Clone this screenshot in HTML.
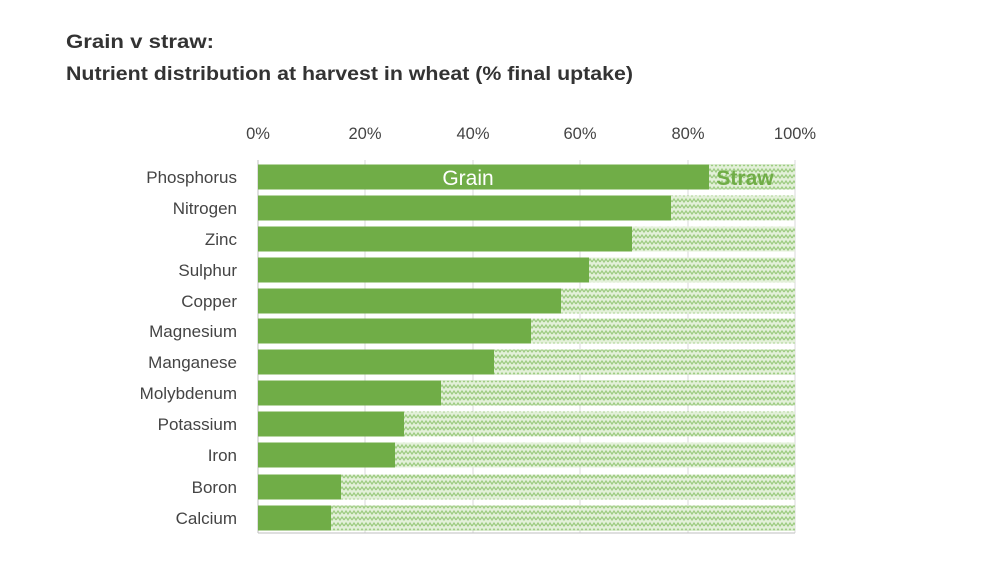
<!DOCTYPE html>
<html><head><meta charset="utf-8"><style>
body{margin:0;background:#fff;width:1000px;height:575px;overflow:hidden}
</style></head><body>
<svg width="1000" height="575" xmlns="http://www.w3.org/2000/svg" font-family="Liberation Sans, sans-serif">
<defs>
<pattern id="p" width="8" height="6" patternUnits="userSpaceOnUse">
<rect width="8" height="6" fill="#e3f0d9"/>
<path d="M0 4 L2 1 L4 4 L6 1 L8 4" stroke="#9ccb80" stroke-width="1.2" fill="none"/>
</pattern>
</defs>
<text x="66" y="48" font-size="19" font-weight="bold" fill="#333" textLength="148" lengthAdjust="spacingAndGlyphs">Grain v straw:</text>
<text x="66" y="80" font-size="19" font-weight="bold" fill="#333" textLength="567" lengthAdjust="spacingAndGlyphs">Nutrient distribution at harvest in wheat (% final uptake)</text>
<g font-size="16.5" fill="#444" text-anchor="middle">
<text x="258" y="139">0%</text><text x="365" y="139">20%</text><text x="473" y="139">40%</text><text x="580" y="139">60%</text><text x="688" y="139">80%</text><text x="795" y="139">100%</text>
</g>
<g stroke="#d9d9d9" stroke-width="1">
<line x1="365" y1="160" x2="365" y2="533"/><line x1="473" y1="160" x2="473" y2="533"/><line x1="580" y1="160" x2="580" y2="533"/><line x1="688" y1="160" x2="688" y2="533"/><line x1="795" y1="160" x2="795" y2="533"/>
</g>
<line x1="258" y1="160" x2="258" y2="533" stroke="#bfbfbf"/>
<line x1="258" y1="533" x2="795" y2="533" stroke="#bfbfbf"/>
<g font-size="17" fill="#444" text-anchor="end">
<rect x="258" y="164.5" width="537" height="25" fill="url(#p)"/><rect x="258" y="164.5" width="451" height="25" fill="#70ad47"/><text x="237" y="183">Phosphorus</text>
<rect x="258" y="195.5" width="537" height="25" fill="url(#p)"/><rect x="258" y="195.5" width="413" height="25" fill="#70ad47"/><text x="237" y="214">Nitrogen</text>
<rect x="258" y="226.5" width="537" height="25" fill="url(#p)"/><rect x="258" y="226.5" width="374" height="25" fill="#70ad47"/><text x="237" y="245">Zinc</text>
<rect x="258" y="257.5" width="537" height="25" fill="url(#p)"/><rect x="258" y="257.5" width="331" height="25" fill="#70ad47"/><text x="237" y="276">Sulphur</text>
<rect x="258" y="288.5" width="537" height="25" fill="url(#p)"/><rect x="258" y="288.5" width="303" height="25" fill="#70ad47"/><text x="237" y="307">Copper</text>
<rect x="258" y="318.5" width="537" height="25" fill="url(#p)"/><rect x="258" y="318.5" width="273" height="25" fill="#70ad47"/><text x="237" y="337">Magnesium</text>
<rect x="258" y="349.5" width="537" height="25" fill="url(#p)"/><rect x="258" y="349.5" width="236" height="25" fill="#70ad47"/><text x="237" y="368">Manganese</text>
<rect x="258" y="380.5" width="537" height="25" fill="url(#p)"/><rect x="258" y="380.5" width="183" height="25" fill="#70ad47"/><text x="237" y="399">Molybdenum</text>
<rect x="258" y="411.5" width="537" height="25" fill="url(#p)"/><rect x="258" y="411.5" width="146" height="25" fill="#70ad47"/><text x="237" y="430">Potassium</text>
<rect x="258" y="442.5" width="537" height="25" fill="url(#p)"/><rect x="258" y="442.5" width="137" height="25" fill="#70ad47"/><text x="237" y="461">Iron</text>
<rect x="258" y="474.5" width="537" height="25" fill="url(#p)"/><rect x="258" y="474.5" width="83" height="25" fill="#70ad47"/><text x="237" y="493">Boron</text>
<rect x="258" y="505.5" width="537" height="25" fill="url(#p)"/><rect x="258" y="505.5" width="73" height="25" fill="#70ad47"/><text x="237" y="524">Calcium</text>
</g>
<text x="468" y="185" font-size="21" fill="#fff" text-anchor="middle">Grain</text>
<text x="745" y="185" font-size="21" font-weight="bold" fill="#70ad47" text-anchor="middle">Straw</text>
</svg>
</body></html>
